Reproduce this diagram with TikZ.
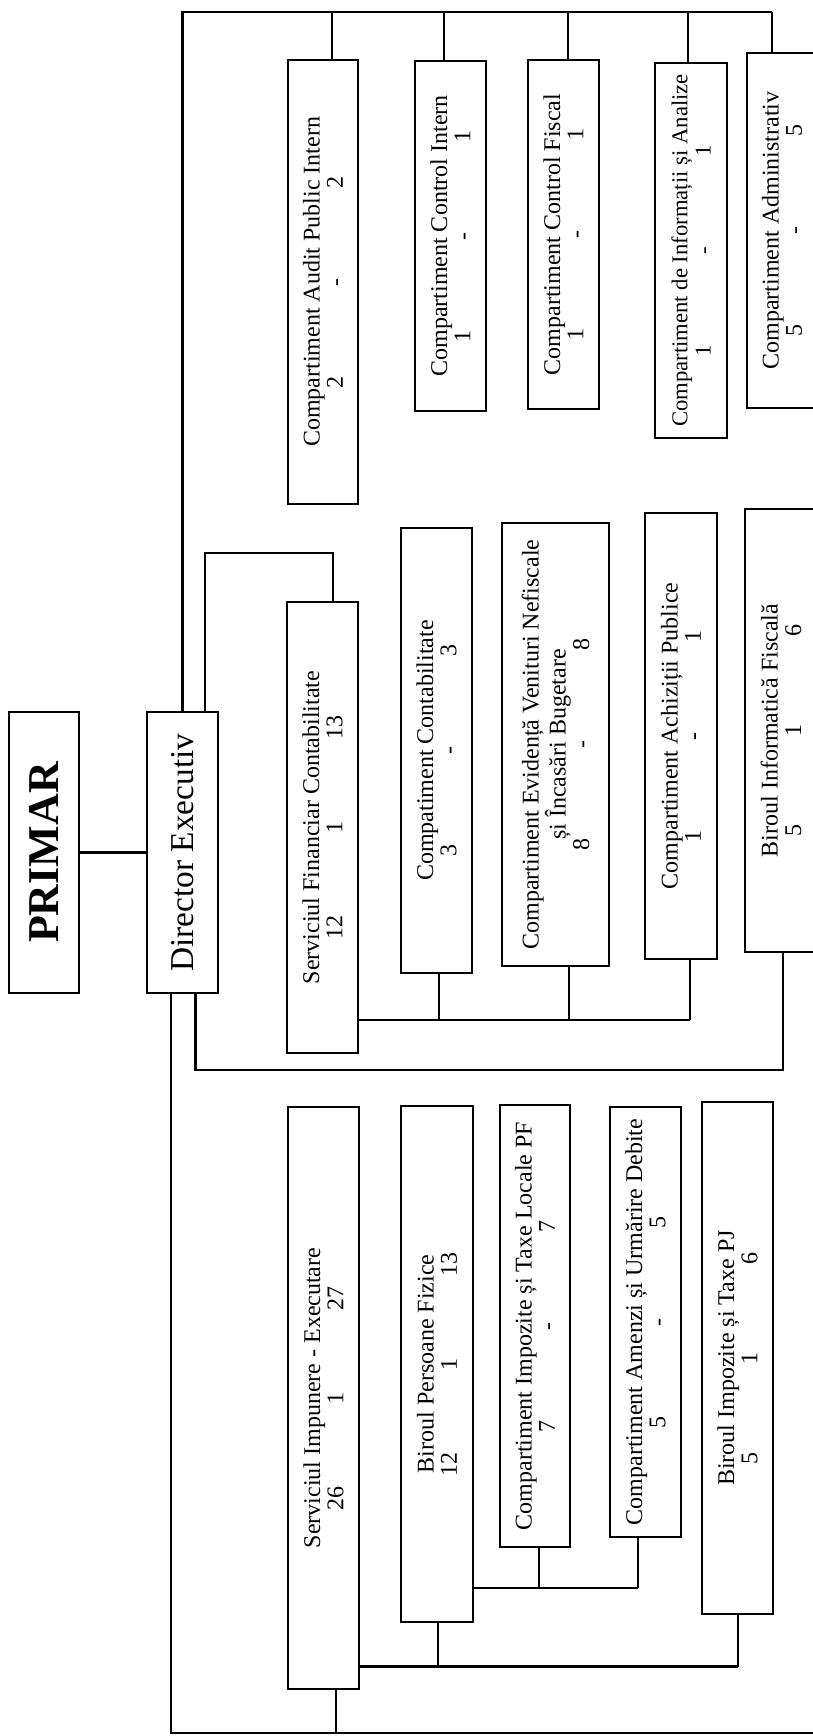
\documentclass[tikz,border=0pt]{standalone}
\usepackage{fontspec}
\setmainfont{Liberation Serif}
\newcommand{\nums}[3]{\makebox[75pt]{#1}\makebox[75pt]{#2}\makebox[75pt]{#3}}
\tikzset{
  unit/.style 2 args={draw, line width=2.2pt, rotate=90, inner sep=0pt, align=center,
    minimum width=#1*0.75pt, minimum height=#2*0.75pt,
    font=\fontsize{18}{17.5}\selectfont},
  link/.style={line width=2.2pt},
}
\begin{document}
\begin{tikzpicture}[x=0.75pt,y=0.75pt,yscale=-1,xscale=1]
\useasboundingbox (0,0) rectangle (813,1736);

% head
\node[unit={281}{70}, font=\fontsize{33}{33}\selectfont\bfseries] (primar) at (44,852.5) {PRIMAR};
\node[unit={281}{71}, font=\fontsize{25}{25}\selectfont] (director) at (182.5,852.5) {Director Executiv};
\draw[link] (primar) -- (director);

% top group
\node[unit={444}{70}] (audit) at (323,282) {Compartiment Audit Public Intern\\\nums{2}{-}{2}};
\node[unit={350}{71}] (ctrlint) at (450.5,236) {Compartiment Control Intern\\\nums{1}{-}{1}};
\node[unit={349}{71}] (ctrlfisc) at (563.5,234.5) {Compartiment Control Fiscal\\\nums{1}{-}{1}};
\node[unit={375}{72}, font=\fontsize{17}{17.5}\selectfont] (info) at (691,250.5) {Compartiment de Informații și Analize\\\nums{1}{-}{1}};
\node[unit={355}{70}] (admin) at (782,230.5) {Compartiment Administrativ\\\nums{5}{-}{5}};

\coordinate (topl) at (182.5,12);
\coordinate (topr) at (772,12);
\draw[link] (director.east) -- (topl) -- (topr);
\foreach \n/\x in {audit/332,ctrlint/444,ctrlfisc/568,info/688,admin/772} {
  \coordinate (stem) at (\x,12);
  \draw[link] (stem) -- (stem |- \n.east);
}

% middle group
\node[unit={451}{71}] (sfc) at (322.5,827.5) {Serviciul Financiar Contabilitate\\\nums{12}{1}{13}};
\node[unit={445}{71}] (contab) at (436.5,750.5) {Compatiment Contabilitate\\\nums{3}{-}{3}};
\node[unit={443}{107}] (evid) at (555.5,744.5) {Compartiment Evidență Venituri Nefiscale\\și Încasări Bugetare\\\nums{8}{-}{8}};
\node[unit={446}{72}] (achiz) at (681,736) {Compartiment Achiziții Publice\\\nums{1}{-}{1}};
\node[unit={443}{72}] (biroinfo) at (781,730.5) {Biroul Informatică Fiscală\\\nums{5}{1}{6}};

\coordinate (dsf1) at (205,553);
\coordinate (dsf2) at (333,553);
\draw[link] (dsf1 |- director.east) -- (dsf1) -- (dsf2) -- (dsf2 |- sfc.east);

\coordinate (sfcbus) at (690,1020);
\draw[link] (sfc.south |- sfcbus) -- (sfcbus);
\foreach \n/\x in {contab/439,evid/569,achiz/690} {
  \coordinate (stem) at (\x,1020);
  \draw[link] (stem) -- (stem |- \n.west);
}

\coordinate (dbi1) at (195.5,1070);
\coordinate (dbi2) at (783,1070);
\draw[link] (dbi1 |- director.west) -- (dbi1) -- (dbi2) -- (dbi2 |- biroinfo.west);

% bottom group
\node[unit={582}{71}] (impun) at (323.5,1398) {Serviciul Impunere - Executare\\\nums{26}{1}{27}};
\node[unit={516}{72}] (persfiz) at (437,1364) {Biroul Persoane Fizice\\\nums{12}{1}{13}};
\node[unit={442}{70}] (impozpf) at (535,1326) {Compartiment Impozite și Taxe Locale PF\\\nums{7}{-}{7}};
\node[unit={430}{71}] (amenzi) at (645.5,1322) {Compartiment Amenzi și Urmărire Debite\\\nums{5}{-}{5}};
\node[unit={512}{71}] (pj) at (737.5,1358) {Biroul Impozite și Taxe PJ\\\nums{5}{1}{6}};

\coordinate (dbot) at (171,1733);
\coordinate (botr) at (813,1733);
\coordinate (impstem) at (336,1733);
\draw[link] (dbot |- director.west) -- (dbot) -- (botr);
\draw[link] (impstem) -- (impstem |- impun.west);

\coordinate (impbus) at (738,1666.5);
\draw[link] (impun.south |- impbus) -- (impbus);
\foreach \n/\x in {persfiz/438,pj/738} {
  \coordinate (stem) at (\x,1666.5);
  \draw[link] (stem) -- (stem |- \n.west);
}

\coordinate (pfbus) at (638,1588);
\draw[link] (persfiz.south |- pfbus) -- (pfbus);
\foreach \n/\x in {impozpf/539,amenzi/638} {
  \coordinate (stem) at (\x,1588);
  \draw[link] (stem) -- (stem |- \n.west);
}
\end{tikzpicture}
\end{document}
